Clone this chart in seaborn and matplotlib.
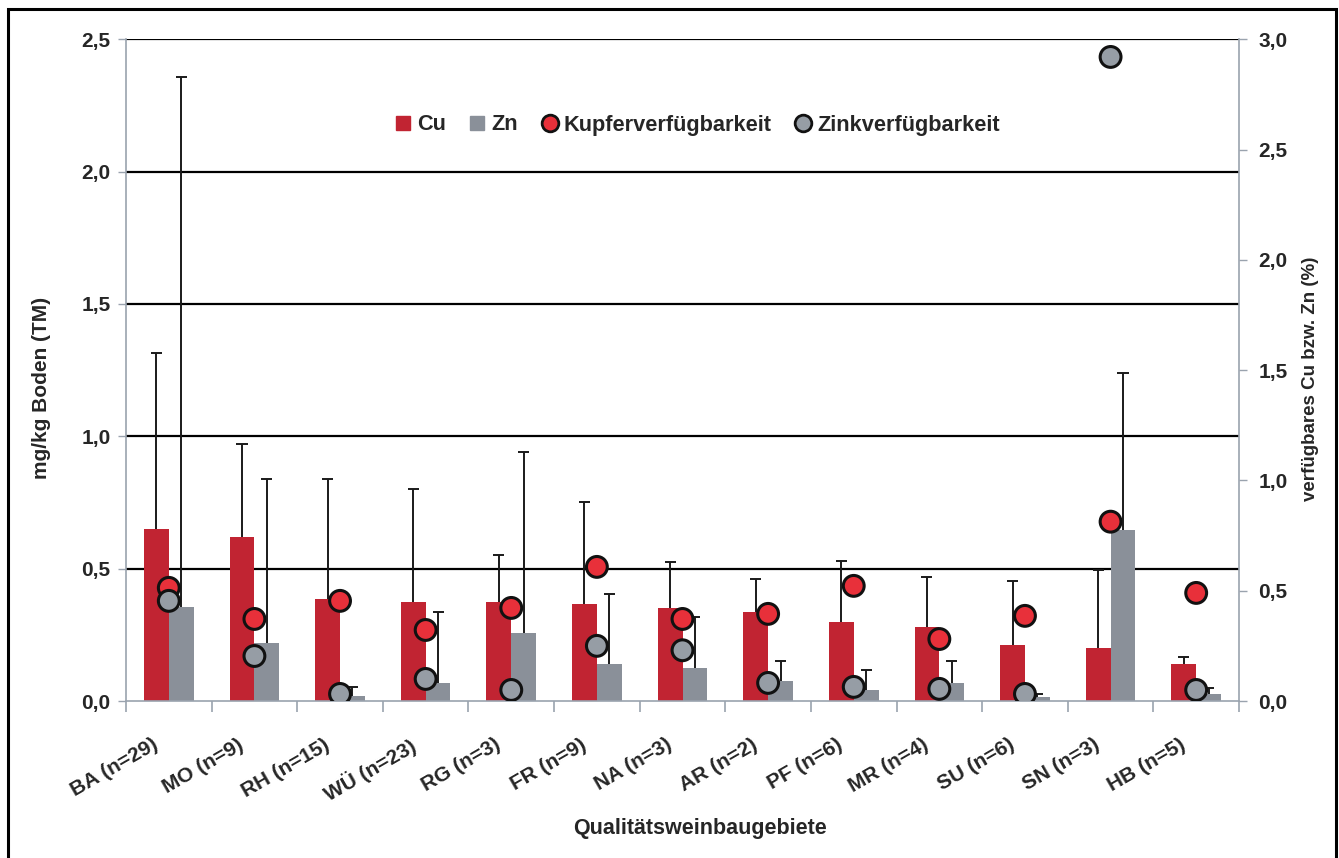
import numpy as np
import pandas as pd
import matplotlib
matplotlib.use("Agg")
import matplotlib.pyplot as plt
import matplotlib.transforms as mtrans
from matplotlib.patches import Rectangle
from matplotlib.lines import Line2D
import seaborn as sns

categories = ["BA (n=29)", "MO (n=9)", "RH (n=15)", "WÜ (n=23)", "RG (n=3)", "FR (n=9)",
              "NA (n=3)", "AR (n=2)", "PF (n=6)", "MR (n=4)", "SU (n=6)", "SN (n=3)", "HB (n=5)"]
cu_mean = [0.65, 0.62, 0.386, 0.375, 0.375, 0.367, 0.352, 0.337, 0.30, 0.28, 0.212, 0.20, 0.14]
cu_upper = [1.316, 0.97, 0.84, 0.80, 0.55, 0.75, 0.526, 0.46, 0.53, 0.469, 0.454, 0.495, 0.166]
zn_mean = [0.356, 0.22, 0.02, 0.068, 0.257, 0.14, 0.125, 0.076, 0.04, 0.068, 0.015, 0.647, 0.026]
zn_upper = [2.356, 0.84, 0.053, 0.337, 0.94, 0.405, 0.318, 0.151, 0.117, 0.151, 0.026, 1.24, 0.05]
cu_avail = [0.513, 0.372, 0.454, 0.322, 0.422, 0.608, 0.372, 0.395, 0.522, 0.281, 0.386, 0.813, 0.49]
zn_avail = [0.454, 0.204, 0.032, 0.10, 0.05, 0.25, 0.23, 0.082, 0.064, 0.055, 0.032, 2.92, 0.05]

CU_COL = "#C12432"
ZN_COL = "#8A9099"
CU_PT = "#E8303A"
ZN_PT = "#969DA5"
AX_COL = "#9AA3AE"

sns.set_theme(style="white")
plt.rcParams['font.family'] = ['Liberation Sans', 'DejaVu Sans']
plt.rcParams['font.weight'] = 'bold'

fig = plt.figure(figsize=(13.39, 8.58), dpi=100)
ax = fig.add_axes([126/1339, 1 - 701/858, (1239-126)/1339, (701-39.3)/858])

bars = pd.DataFrame({
    "Gebiet": categories * 2,
    "Wert": cu_mean + zn_mean,
    "Element": ["Cu"] * len(categories) + ["Zn"] * len(categories),
})
sns.barplot(data=bars, x="Gebiet", y="Wert", hue="Element", order=categories,
            hue_order=["Cu", "Zn"], palette=[CU_COL, ZN_COL], width=0.58, gap=0,
            errorbar=None, ax=ax, legend=False, zorder=2, saturation=1,
            linewidth=0, edgecolor="none")

# upper-only error bars
xs = np.arange(len(categories))
bw = 0.29
cap = 0.065
for off, mean, up in [(-bw/2, cu_mean, cu_upper), (bw/2, zn_mean, zn_upper)]:
    m = np.array(mean); u = np.array(up)
    ax.vlines(xs + off, m, u, color="#1a1a1a", lw=1.4, zorder=3)
    ax.hlines(u, xs + off - cap, xs + off + cap, color="#1a1a1a", lw=1.4, zorder=3)

ax.set_ylim(0, 2.5)
ax.set_xlim(-0.5, len(categories) - 0.5)
ax.set_yticks([0, 0.5, 1.0, 1.5, 2.0, 2.5])
ax.set_yticklabels(["0,0", "0,5", "1,0", "1,5", "2,0", "2,5"], fontsize=15, fontweight="bold")
for yv in [0.5, 1.0, 1.5, 2.0, 2.5]:
    ax.axhline(yv, color="black", lw=1.6, zorder=1)

ax.set_xticks(xs)
ax.set_xticklabels(categories, rotation=30, ha="right", rotation_mode="anchor",
                   fontsize=15, fontweight="bold")
ax.tick_params(axis="x", which="major", length=0, pad=26)
shift = mtrans.ScaledTranslation(-17/100, 2/100, fig.dpi_scale_trans)
for lab in ax.get_xticklabels():
    lab.set_transform(lab.get_transform() + shift)
ax.set_xticks(np.arange(-0.5, len(categories), 1.0), minor=True)
ax.tick_params(axis="x", which="minor", length=8, color=AX_COL, width=1.2, direction="out", bottom=True)
ax.tick_params(axis="y", length=6, color=AX_COL, width=1.0, direction="out", left=True, pad=5)

for s in ["left", "bottom"]:
    ax.spines[s].set_color(AX_COL)
    ax.spines[s].set_linewidth(1.2)
for s in ["top", "right"]:
    ax.spines[s].set_visible(False)

ax.set_xlabel("Qualitätsweinbaugebiete", fontsize=15.5, fontweight="bold")
ax.xaxis.set_label_coords((700-126)/1113, (701-818)/662)
ax.set_ylabel("mg/kg Boden (TM)", fontsize=15, fontweight="bold")
ax.yaxis.set_label_coords((51-126)/1113, (701-388)/662)

ax2 = ax.twinx()
pts = pd.DataFrame({
    "Gebiet": categories * 2,
    "Prozent": cu_avail + zn_avail,
    "Art": ["Kupferverfügbarkeit"] * len(categories) + ["Zinkverfügbarkeit"] * len(categories),
})
sns.stripplot(data=pts, x="Gebiet", y="Prozent", hue="Art", order=categories,
              hue_order=["Kupferverfügbarkeit", "Zinkverfügbarkeit"],
              palette=[CU_PT, ZN_PT], jitter=False, dodge=False, size=15,
              edgecolor="#111111", linewidth=2.2, ax=ax2, legend=False, zorder=5)
ax2.set_ylim(0, 3.0)
ax2.set_xlim(-0.5, len(categories) - 0.5)
ax2.set_yticks([0, 0.5, 1.0, 1.5, 2.0, 2.5, 3.0])
ax2.set_yticklabels(["0,0", "0,5", "1,0", "1,5", "2,0", "2,5", "3,0"], fontsize=15, fontweight="bold")
ax2.tick_params(axis="y", length=6, color=AX_COL, width=1.0, direction="out", right=True, pad=8)
ax2.set_xlabel("")
ax2.set_ylabel("verfügbares Cu bzw. Zn (%)", fontsize=13.5, fontweight="bold")
ax2.yaxis.set_label_coords((1302-126)/1113, (701-379)/662)
for s in ["left", "top", "bottom"]:
    ax2.spines[s].set_visible(False)
ax2.spines["right"].set_color(AX_COL)
ax2.spines["right"].set_linewidth(1.2)

handles = [
    Line2D([], [], marker="s", ls="none", markersize=9.5, markerfacecolor=CU_COL, markeredgecolor=CU_COL),
    Line2D([], [], marker="s", ls="none", markersize=9.5, markerfacecolor=ZN_COL, markeredgecolor=ZN_COL),
    Line2D([], [], marker="o", ls="none", markersize=12, markerfacecolor=CU_PT, markeredgecolor="#111111", markeredgewidth=2),
    Line2D([], [], marker="o", ls="none", markersize=12, markerfacecolor=ZN_PT, markeredgecolor="#111111", markeredgewidth=2),
]
leg = ax2.legend(handles, ["Cu", "Zn", "Kupferverfügbarkeit", "Zinkverfügbarkeit"], ncol=4,
                 frameon=False, loc="center", bbox_to_anchor=(697/1339, 1 - 125/858),
                 bbox_transform=fig.transFigure, handlelength=0.8, handletextpad=0.25,
                 columnspacing=1.05, prop={"size": 15.7, "weight": "bold"})

fig.add_artist(Rectangle((8/1339, -0.01), (1336-8)/1339, 1 - 9/858 + 0.01, transform=fig.transFigure,
                         fill=False, edgecolor="black", lw=2.2))

fig.savefig("out.png", dpi=100)
